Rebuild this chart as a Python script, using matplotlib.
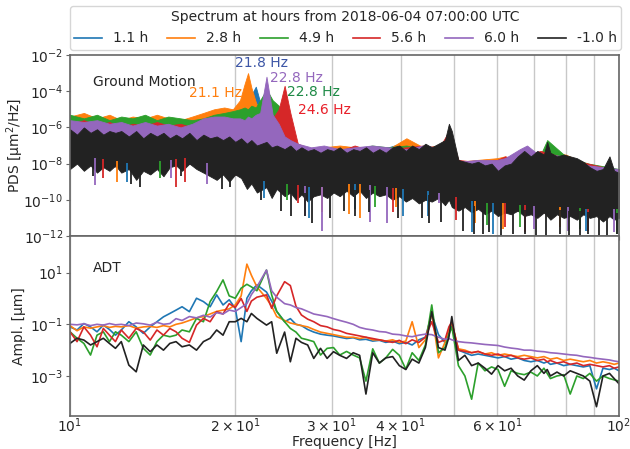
import numpy as np
import matplotlib
matplotlib.use('Agg')
import matplotlib.pyplot as plt

# frequency grid [Hz] used by the black PDS band and all ADT curves
freq = [10.0, 10.3, 10.6, 10.9, 11.2, 11.5, 11.8, 12.1,
        12.4, 12.8, 13.2, 13.6, 14.0, 14.4, 14.8, 15.2,
        15.6, 16.0, 16.5, 17.0, 17.5, 18.0, 18.5, 19.0,
        19.5, 20.0, 20.5, 21.0, 21.4, 21.9, 22.8, 23.3,
        23.8, 24.6, 25.2, 25.8, 26.4, 27.1, 27.8, 28.6,
        29.4, 30.2, 31.0, 31.9, 32.8, 33.7, 34.6, 35.6,
        36.6, 37.6, 38.7, 39.8, 40.9, 42.0, 43.2, 44.4,
        45.6, 46.9, 48.2, 49.0, 49.6, 51.0, 52.4, 53.9,
        55.4, 57.0, 58.6, 60.2, 61.9, 63.6, 65.4, 67.2,
        69.1, 71.0, 73.0, 74.0, 75.0, 77.1, 79.3, 81.5,
        83.8, 86.1, 88.5, 91.0, 93.5, 96.1, 98.0, 100.0]

# coarser grid for the coloured PDS bands
freq_c = [10.0, 10.6, 11.2, 11.8, 12.4, 13.0, 13.7, 14.4,
          15.1, 15.9, 16.7, 17.5, 18.3, 19.1, 19.8, 20.4,
          20.8, 21.1, 21.4, 21.8, 22.2, 22.8, 23.4, 24.0,
          24.6, 25.2, 26.0, 27.5, 29.0, 31.0, 33.0, 35.5,
          38.0, 41.0, 44.0, 46.9, 49.0, 51.0, 55.0, 60.0,
          62.0, 66.0, 68.0, 72.0, 74.0, 80.0, 88.0, 100.0]

labels = ['1.1 h', '2.8 h', '4.9 h', '5.6 h', '6.0 h', '-1.0 h']
colors = ['#1f77b4', '#ff7f0e', '#2ca02c', '#d62728', '#9467bd', '#222222']

# ---- Ground motion PDS, log10 [um^2/Hz] (upper / lower envelope) ----
gm_hi_black = [-6.1, -6.4, -6.0, -6.3, -6.1, -6.4, -6.2, -6.3,
               -6.2, -6.5, -6.2, -6.6, -6.3, -6.5, -6.3, -6.6,
               -6.4, -6.6, -6.3, -6.7, -6.4, -6.6, -6.5, -6.7,
               -6.5, -6.8, -6.6, -6.9, -6.7, -7.0, -6.8, -7.1,
               -7.0, -7.2, -7.0, -7.3, -7.1, -7.3, -7.2, -7.4,
               -7.2, -7.3, -7.1, -7.4, -7.2, -7.3, -7.1, -7.4,
               -7.2, -7.4, -7.1, -7.0, -7.3, -7.0, -7.2, -6.9,
               -7.1, -6.9, -6.7, -5.8, -6.2, -7.8, -7.9, -8.0,
               -7.9, -8.1, -8.0, -8.4, -8.1, -8.0, -7.6, -7.3,
               -7.6, -7.3, -7.5, -6.8, -7.4, -7.6, -7.5, -7.6,
               -7.7, -7.9, -8.2, -8.4, -8.3, -7.6, -8.4, -8.5]
gm_lo_black = [-8.3, -8.0, -8.4, -8.1, -8.5, -8.2, -8.4, -8.1,
               -8.5, -8.3, -8.9, -8.4, -8.6, -8.3, -8.7, -8.2,
               -8.1, -8.4, -8.0, -8.3, -8.5, -8.7, -8.9, -8.6,
               -9.0, -8.6, -8.8, -9.4, -9.1, -9.6, -9.3, -9.9,
               -9.4, -9.8, -9.6, -10.0, -9.7, -10.1, -9.8, -9.7,
               -9.9, -9.6, -9.8, -9.5, -9.8, -9.5, -9.9, -9.6,
               -9.8, -9.7, -10.0, -9.8, -10.1, -9.9, -10.2, -10.0,
               -10.1, -9.9, -10.3, -10.0, -10.4, -10.6, -10.4, -10.7,
               -10.5, -10.8, -10.6, -10.9, -10.7, -10.8, -10.6, -10.9,
               -10.8, -11.0, -10.7, -10.9, -11.1, -10.8, -11.0, -10.9,
               -11.1, -10.8, -11.0, -10.9, -11.2, -10.9, -11.1, -11.0]

gm_hi_blue = [-5.7, -5.8, -5.6, -5.9, -5.8, -5.7, -5.9, -5.8,
              -5.9, -5.8, -5.9, -5.7, -5.6, -5.6, -5.5, -5.3,
              -4.6, -4.3, -4.2, -3.75, -4.6, -5.2, -5.6, -5.9,
              -6.3, -6.7, -7.0, -7.2, -7.1, -7.2, -7.1, -7.2,
              -7.1, -6.8, -7.1, -7.2, -6.5, -7.9, -8.0, -7.9,
              -7.7, -7.8, -7.6, -7.6, -7.5, -7.6, -8.2, -8.4]
gm_hi_orange = [-5.4, -5.2, -5.5, -5.3, -5.6, -5.4, -5.5, -5.3,
                -5.5, -5.6, -5.4, -5.2, -5.0, -4.9, -5.0, -4.5,
                -3.6, -3.0, -3.8, -4.6, -5.2, -5.8, -6.2, -6.4,
                -6.6, -6.8, -7.0, -7.2, -7.1, -7.0, -7.1, -7.3,
                -7.2, -6.6, -7.1, -7.0, -6.5, -7.9, -7.8, -7.7,
                -7.6, -7.9, -7.7, -7.9, -7.4, -7.5, -8.1, -8.4]
gm_hi_green = [-5.3, -5.5, -5.3, -5.6, -5.4, -5.5, -5.3, -5.6,
               -5.4, -5.5, -5.6, -5.5, -5.3, -5.2, -5.1, -5.0,
               -4.9, -5.0, -4.8, -4.9, -4.5, -3.9, -4.5, -4.8,
               -5.9, -6.6, -7.0, -7.2, -7.1, -7.3, -7.2, -7.0,
               -7.1, -7.0, -7.2, -7.1, -6.6, -7.9, -8.0, -7.8,
               -7.7, -7.9, -7.8, -7.5, -6.7, -7.6, -8.0, -8.3]
gm_hi_red = [-5.8, -5.6, -5.9, -5.7, -6.0, -5.8, -5.9, -5.7,
             -5.9, -5.8, -6.0, -5.7, -5.6, -5.5, -5.6, -5.8,
             -5.9, -5.7, -5.8, -5.9, -5.7, -5.6, -5.5, -5.0,
             -3.7, -5.2, -6.9, -7.2, -7.1, -7.3, -7.0, -7.3,
             -7.2, -7.1, -7.0, -7.2, -6.2, -7.8, -7.9, -7.8,
             -7.6, -7.8, -7.5, -7.3, -7.4, -7.7, -8.0, -8.4]
gm_hi_purple = [-5.6, -5.7, -5.6, -5.8, -5.7, -5.9, -5.7, -5.9,
                -5.8, -6.0, -5.8, -5.5, -5.4, -5.4, -5.5, -5.5,
                -5.6, -5.4, -5.5, -5.3, -5.2, -3.2, -5.3, -5.8,
                -6.5, -6.7, -6.9, -7.1, -7.0, -7.2, -7.1, -7.0,
                -7.1, -7.2, -7.0, -7.1, -6.8, -7.9, -7.8, -7.8,
                -7.7, -7.2, -7.0, -7.6, -7.5, -7.6, -8.1, -8.3]
gm_lo_col = [-7.9, -8.0, -8.0, -8.1, -8.2, -8.3, -8.3, -8.2,
             -8.1, -8.0, -8.0, -8.2, -8.4, -8.5, -8.6, -8.6,
             -8.8, -8.9, -9.0, -9.1, -9.2, -9.3, -9.4, -9.4,
             -9.4, -9.5, -9.5, -9.6, -9.6, -9.4, -9.4, -9.5,
             -9.6, -9.7, -9.8, -9.9, -10.0, -10.2, -10.4, -10.5,
             -10.5, -10.6, -10.6, -10.7, -10.7, -10.7, -10.8, -10.8]

# narrow downward spikes: frequency [Hz] and log10 depth
spk_f_black = [11.0, 12.9, 13.4, 15.9, 18.9, 19.6, 22.3, 24.2, 25.3, 26.8, 27.6,
               29.8, 31.5, 33.0, 35.0, 39.5, 43.8, 45.0, 47.5, 52.0, 54.5, 56.5,
               58.0, 61.0, 64.0, 67.5, 70.5, 73.5, 78.0, 81.0, 85.0, 88.0, 92.0,
               95.0, 99.0]
spk_v_black = [-8.7, -9.1, -9.3, -8.7, -9.4, -9.3, -10.0, -10.6, -10.9, -10.9, -11.3,
               -11.0, -10.6, -10.9, -10.7, -11.0, -11.0, -11.3, -11.2, -11.7, -11.9, -11.9,
               -11.8, -12.0, -11.9, -11.9, -12.0, -12.0, -11.9, -12.0, -12.0, -11.9, -12.0,
               -12.0, -11.9]
spk_f_blue = [12.7, 22.6, 27.2, 33.0, 40.4, 44.9, 53.9, 58.9, 87.0]
spk_v_blue = [-9.0, -9.9, -11.0, -10.5, -10.9, -10.9, -11.8, -11.9, -11.7]
spk_f_orange = [12.2, 28.8, 32.2, 33.8, 39.2, 54.6, 61.5, 78.0]
spk_v_orange = [-9.0, -10.7, -10.8, -11.0, -10.4, -11.3, -11.6, -11.5]
spk_f_green = [14.6, 24.8, 36.0, 57.6, 66.0, 85.0, 99.0]
spk_v_green = [-8.8, -10.0, -10.4, -11.4, -11.5, -11.6, -11.9]
spk_f_red = [11.5, 15.6, 16.2, 26.0, 38.7, 50.4, 62.0, 67.5, 88.0]
spk_v_red = [-8.8, -9.3, -9.0, -10.2, -10.7, -11.1, -11.5, -11.8, -11.7]
spk_f_purple = [11.1, 15.3, 17.8, 26.8, 28.8, 35.2, 37.8, 47.0, 70.0, 80.7, 98.0]
spk_v_purple = [-9.2, -8.8, -9.1, -10.9, -11.7, -11.2, -11.3, -10.2, -11.6, -11.7, -11.8]

# ---- ADT amplitude, log10 [um] ----
adt_blue = [-1.1, -1.22, -0.97, -1.1, -1.29, -1.03, -1.2, -1.42,
            -1.22, -0.9, -1.1, -1.35, -1.1, -0.9, -0.71, -0.58,
            -0.45, -0.32, -0.51, 0.01, -0.12, -0.32, 0.14, -0.25,
            -0.05, -0.38, -1.67, 0.01, 0.3, 0.53, 0.25, -0.1,
            -0.5, -0.9, -0.78, -1.0, -1.05, -1.2, -1.3, -1.38,
            -1.42, -1.45, -1.5, -1.55, -1.52, -1.6, -1.58, -1.65,
            -1.62, -1.7, -1.65, -1.75, -1.7, -1.8, -1.6, -1.5,
            -0.6, -1.4, -1.7, -1.3, -1.0, -2.0, -2.1, -2.2,
            -2.15, -2.2, -2.25, -2.3, -2.25, -2.35, -2.3, -2.4,
            -2.45, -2.4, -2.5, -2.45, -2.55, -2.5, -2.6, -2.55,
            -2.6, -2.65, -2.6, -3.5, -2.7, -2.75, -2.7, -2.8]
adt_orange = [-1.05, -1.25, -1.1, -1.15, -1.1, -1.05, -1.12, -1.08,
              -1.1, -1.05, -1.15, -1.1, -1.08, -1.12, -1.05, -1.1,
              -1.0, -0.95, -0.85, -0.75, -0.7, -0.6, -0.5, -0.45,
              -0.4, -0.25, 0.1, 1.33, 0.9, 0.45, 0.0, -0.3,
              -0.7, -0.85, -0.95, -1.0, -1.05, -1.1, -1.2, -1.3,
              -1.35, -1.4, -1.45, -1.5, -1.5, -1.55, -1.5, -1.6,
              -1.6, -1.65, -1.6, -1.7, -1.65, -0.9, -1.9, -1.6,
              -0.55, -2.3, -1.7, -1.2, -0.95, -1.95, -2.0, -2.1,
              -2.05, -2.15, -2.1, -2.2, -2.15, -2.2, -2.25, -2.2,
              -2.25, -2.3, -2.25, -2.3, -2.35, -2.3, -2.4, -2.35,
              -2.4, -2.45, -2.4, -2.5, -2.45, -2.5, -2.55, -2.5]
adt_green = [-1.29, -1.54, -1.74, -2.19, -1.42, -1.29, -1.67, -1.29,
             -1.42, -1.67, -1.29, -1.93, -2.19, -1.67, -1.42, -1.48,
             -1.42, -1.22, -1.29, -0.77, -0.9, -0.12, 0.27, 0.72,
             0.1, 0.01, 0.4, 0.55, 0.45, 0.3, 1.1, 0.14,
             -0.5, -0.9, -1.16, -1.3, -1.54, -1.6, -1.67, -2.19,
             -1.93, -1.9, -2.19, -2.05, -2.19, -2.3, -3.2, -1.95,
             -2.5, -2.3, -1.97, -2.2, -2.74, -2.1, -2.4, -1.8,
             -0.25, -2.1, -1.9, -1.4, -1.1, -2.6, -3.0, -3.9,
             -2.5, -2.8, -2.65, -2.75, -3.4, -2.8, -2.9, -2.95,
             -2.85, -3.0, -2.7, -2.9, -3.1, -3.0, -2.95, -3.7,
             -3.0, -3.1, -2.9, -3.2, -3.0, -3.1, -3.15, -3.2]
adt_red = [-1.29, -1.67, -1.1, -1.42, -1.87, -1.16, -1.42, -1.67,
           -1.22, -1.54, -1.16, -1.29, -1.61, -1.22, -1.42, -1.16,
           -1.29, -1.54, -1.7, -1.03, -0.77, -0.9, -0.51, -0.6,
           -0.2, -0.35, 0.0, -0.5, -0.1, 0.05, 0.14, -0.38,
           0.1, 0.65, 0.5, -0.3, -0.64, -0.8, -0.9, -1.05,
           -1.1, -1.2, -1.25, -1.35, -1.4, -1.45, -1.5, -1.55,
           -1.6, -1.65, -1.7, -1.62, -1.75, -1.6, -1.7, -1.5,
           -0.9, -1.7, -1.6, -1.1, -0.9, -2.0, -2.05, -2.1,
           -2.05, -2.15, -2.2, -2.15, -2.25, -2.2, -2.3, -2.35,
           -2.3, -2.4, -2.35, -2.45, -2.4, -2.5, -2.45, -2.55,
           -2.5, -2.6, -2.55, -2.6, -2.65, -2.6, -2.7, -2.65]
adt_purple = [-1.0, -1.02, -0.98, -1.05, -1.0, -1.03, -0.97, -1.02,
              -1.0, -1.05, -0.95, -0.98, -1.03, -0.92, -1.0, -0.97,
              -0.78, -0.85, -0.7, -0.75, -0.65, -0.72, -0.55, -0.6,
              -0.45, -0.5, -0.35, -0.2, 0.15, 0.45, 1.1, 0.3,
              0.05, -0.2, -0.25, -0.35, -0.4, -0.5, -0.6, -0.65,
              -0.7, -0.78, -0.85, -0.92, -1.0, -1.12, -1.18, -1.22,
              -1.28, -1.3, -1.38, -1.4, -1.45, -1.48, -1.42, -1.38,
              -1.4, -1.5, -1.58, -1.55, -1.6, -1.67, -1.7, -1.72,
              -1.75, -1.78, -1.8, -1.82, -1.88, -1.92, -1.95, -2.0,
              -2.0, -2.04, -2.06, -2.08, -2.1, -2.12, -2.15, -2.18,
              -2.2, -2.25, -2.28, -2.32, -2.35, -2.38, -2.42, -2.45]
adt_black = [-1.74, -1.54, -1.61, -1.8, -1.67, -1.54, -1.74, -1.93,
             -1.67, -2.58, -2.84, -1.8, -2.06, -1.8, -2.0, -1.74,
             -1.67, -1.87, -1.8, -2.0, -1.67, -1.54, -1.22, -1.42,
             -0.9, -0.9, -0.77, -0.9, -0.58, -0.77, -1.03, -0.9,
             -2.12, -1.3, -2.45, -1.54, -1.7, -1.8, -2.32, -1.93,
             -2.32, -2.06, -2.2, -2.32, -2.1, -2.2, -3.7, -2.1,
             -2.5, -2.3, -2.25, -2.6, -2.75, -2.35, -2.5, -1.9,
             -0.51, -1.9, -2.0, -1.5, -0.7, -2.4, -2.2, -2.6,
             -2.5, -2.7, -2.93, -2.6, -2.8, -2.7, -3.0, -3.16,
             -2.8, -2.6, -2.9, -2.75, -3.0, -2.85, -3.0, -2.8,
             -2.9, -3.0, -3.2, -4.19, -3.0, -2.9, -3.1, -3.3]

peak_text = ['21.8 Hz', '22.8 Hz', '21.1 Hz', '22.8 Hz', '24.6 Hz']
peak_color = ['#3d56a6', '#9467bd', '#ff7f0e', '#1e8a46', '#e8202a']
peak_pos = [(20.0, -2.44), (23.1, -3.27), (16.5, -4.1), (24.9, -4.04), (26.0, -5.04)]

TXT = '#262626'
plt.rcParams['font.family'] = 'DejaVu Sans'
plt.rcParams['font.size'] = 10

fig = plt.figure(figsize=(6.3, 4.49), dpi=100)
ax1 = fig.add_axes([0.1111, 0.4744, 0.8714, 0.4031])
ax2 = fig.add_axes([0.1111, 0.0735, 0.8714, 0.4009], sharex=ax1)

f = np.array(freq)
fc = np.array(freq_c)


def band(ax, x, lo, hi, color):
    ax.fill_between(x, 10.0 ** np.array(lo), 10.0 ** np.array(hi),
                    color=color, lw=0.6, edgecolor=color)


def spikes(ax, sf, sv, x, lo, color):
    top = np.interp(np.log10(sf), np.log10(x), lo) + 0.3
    ax.vlines(sf, 10.0 ** np.array(sv), 10.0 ** top, color=color, lw=1.3)


gm_hi = [gm_hi_blue, gm_hi_orange, gm_hi_green, gm_hi_red, gm_hi_purple]
spk_f = [spk_f_blue, spk_f_orange, spk_f_green, spk_f_red, spk_f_purple]
spk_v = [spk_v_blue, spk_v_orange, spk_v_green, spk_v_red, spk_v_purple]
for i in range(5):
    band(ax1, fc, gm_lo_col, gm_hi[i], colors[i])
    spikes(ax1, spk_f[i], spk_v[i], fc, gm_lo_col, colors[i])
band(ax1, f, gm_lo_black, gm_hi_black, colors[5])
spikes(ax1, spk_f_black, spk_v_black, f, gm_lo_black, colors[5])

adt = [adt_blue, adt_orange, adt_green, adt_red, adt_purple, adt_black]
handles = []
for i, a in enumerate(adt):
    ln, = ax2.plot(f, 10.0 ** np.array(a), color=colors[i], lw=1.2, label=labels[i])
    handles.append(ln)

for (px, py), t, c in zip(peak_pos, peak_text, peak_color):
    ax1.text(px, 10.0 ** py, t, color=c, ha='left', va='center', fontsize=10)

ax1.text(0.042, 0.852, 'Ground Motion', transform=ax1.transAxes, color=TXT,
         ha='left', va='center')
ax2.text(0.042, 0.82, 'ADT', transform=ax2.transAxes, color=TXT,
         ha='left', va='center')

for ax in (ax1, ax2):
    ax.set_xscale('log')
    ax.set_yscale('log')
    ax.set_xlim(10, 100)
    ax.grid(True, which='both', axis='x', color='#c8c8c8', lw=1.0)
    ax.set_axisbelow(True)
    ax.yaxis.set_minor_locator(matplotlib.ticker.NullLocator())
    for s in ax.spines.values():
        s.set_color('#666666')
        s.set_linewidth(1.2)
    ax.tick_params(which='both', colors='#666666', labelcolor=TXT, labelsize=10,
                   length=3, pad=2)

ax1.set_ylim(1e-12, 1e-2)
ax1.set_yticks([1e-12, 1e-10, 1e-8, 1e-6, 1e-4, 1e-2])
ax1.tick_params(which='both', labelbottom=False)
ax2.set_ylim(10 ** -4.55, 10 ** 2.42)
ax2.set_yticks([1e-3, 1e-1, 1e1])
ax2.tick_params(axis='x', which='both', length=0, pad=0)

ax1.set_ylabel('PDS [μm$^2$/Hz]', color=TXT)
ax2.set_ylabel('Ampl. [μm]', color=TXT)
ax2.set_xlabel('Frequency [Hz]', color=TXT)
ax1.yaxis.set_label_coords(-0.08, 0.5)
ax2.yaxis.set_label_coords(-0.08, 0.5)
ax2.xaxis.set_label_coords(0.5, -0.108)

leg = ax1.legend(handles=handles, loc='lower left', bbox_to_anchor=(0, 1.03, 1.004, 0.2),
                 mode='expand', ncol=6, title='Spectrum at hours from 2018-06-04 07:00:00 UTC',
                 fontsize=10, title_fontsize=10, borderaxespad=0, handlelength=2.0,
                 columnspacing=1.0, borderpad=0.3)
leg.get_frame().set_edgecolor('#cccccc')
for t in leg.get_texts():
    t.set_color(TXT)
leg.get_title().set_color(TXT)

fig.savefig('out.png', dpi=100)
